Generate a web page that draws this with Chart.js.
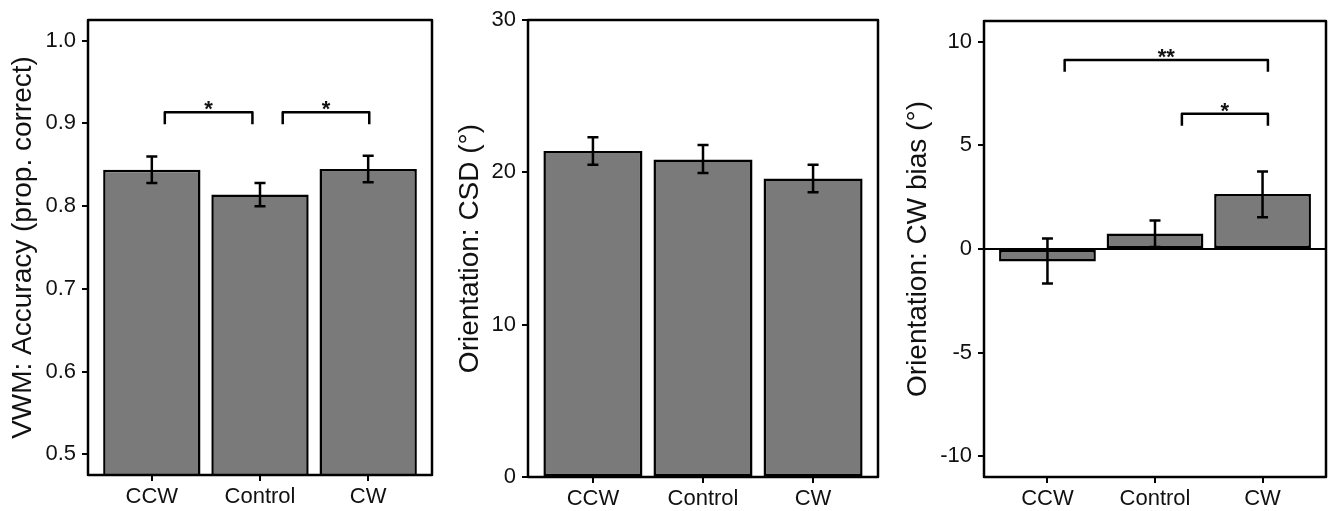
<!DOCTYPE html>
<html>
<head>
<meta charset="utf-8">
<script src="https://cdn.jsdelivr.net/npm/chart.js@4/dist/chart.umd.min.js"></script>
<style>
  html, body { margin: 0; padding: 0; background: #fff; }
  body { width: 1328px; height: 511px; position: relative; overflow: hidden; }
  canvas { position: absolute; top: 0; }
</style>
</head>
<body>
<canvas id="c1" width="440" height="511" style="left:0px"></canvas>
<canvas id="c2" width="450" height="511" style="left:440px"></canvas>
<canvas id="c3" width="438" height="511" style="left:890px"></canvas>
<script>
// ---- data ----
const categories = ['CCW', 'Control', 'CW'];

const accuracy   = [0.844, 0.814, 0.845];
const accuracyLo = [0.828, 0.800, 0.829];
const accuracyHi = [0.860, 0.828, 0.861];
const accuracyTicks = [0.5, 0.6, 0.7, 0.8, 0.9, 1.0];

const csd   = [21.4, 20.85, 19.6];
const csdLo = [20.5, 19.95, 18.7];
const csdHi = [22.3, 21.8, 20.5];
const csdTicks = [0, 10, 20, 30];

const bias   = [-0.6, 0.75, 2.65];
const biasLo = [-1.66, 0.10, 1.53];
const biasHi = [0.51, 1.38, 3.74];
const biasTicks = [-10, -5, 0, 5, 10];

// significance brackets: [xFrom, xTo, yTop, yTail, label]
const accuracyBrackets = [[1.12, 1.93, 0.9135, 0.899, '*'], [2.21, 3.01, 0.9135, 0.899, '*']];
const csdBrackets = [];
const biasBrackets = [[1.16, 3.05, 9.12, 8.55, '**'], [2.25, 3.05, 6.53, 5.95, '*']];

// ---- drawing ----
const FONT = "'Liberation Sans', Arial, Helvetica, sans-serif";
const TXT = '#111';

const framePlugin = {
  id: 'frame',
  afterDatasetsDraw(chart, args, opts) {
    const ctx = chart.ctx, a = chart.chartArea;
    const xs = chart.scales.x, ys = chart.scales.y;
    ctx.save();
    if (opts.zeroLine) {
      const y0 = ys.getPixelForValue(0);
      ctx.strokeStyle = '#000'; ctx.lineWidth = 2;
      ctx.beginPath(); ctx.moveTo(a.left, y0); ctx.lineTo(a.right, y0); ctx.stroke();
    }
    ctx.strokeStyle = '#000'; ctx.lineWidth = 2.5; ctx.lineCap = 'butt';
    const cap = 5.5;
    opts.lo.forEach((lo, i) => {
      const x = xs.getPixelForValue(i + 1);
      const yl = ys.getPixelForValue(lo), yh = ys.getPixelForValue(opts.hi[i]);
      ctx.beginPath();
      ctx.moveTo(x, yl); ctx.lineTo(x, yh);
      ctx.moveTo(x - cap, yl); ctx.lineTo(x + cap, yl);
      ctx.moveTo(x - cap, yh); ctx.lineTo(x + cap, yh);
      ctx.stroke();
    });
    ctx.lineWidth = 2.5; ctx.lineJoin = 'round';
    opts.brackets.forEach(b => {
      const x1 = xs.getPixelForValue(b[0]), x2 = xs.getPixelForValue(b[1]);
      const yt = ys.getPixelForValue(b[2]), yb = ys.getPixelForValue(b[3]);
      ctx.beginPath();
      ctx.moveTo(x1, yb); ctx.lineTo(x1, yt); ctx.lineTo(x2, yt); ctx.lineTo(x2, yb);
      ctx.stroke();
      ctx.fillStyle = TXT;
      ctx.font = 'bold 22px ' + FONT;
      ctx.textAlign = 'center'; ctx.textBaseline = 'alphabetic';
      ctx.fillText(b[4], (x1 + x2) / 2, yt + 4);
    });
    ctx.strokeStyle = '#000'; ctx.lineWidth = 2.5;
    ctx.strokeRect(a.left, a.top, a.right - a.left, a.bottom - a.top);
    ctx.restore();
  }
};

function makePanel(id, cfg) {
  const H = 511;
  new Chart(document.getElementById(id), {
    type: 'bar',
    data: {
      datasets: [{
        data: cfg.values.map((v, i) => ({ x: i + 1, y: v })),
        backgroundColor: '#7a7a7a',
        borderColor: '#000',
        borderWidth: 2.5,
        borderSkipped: false,
        barPercentage: 0.9,
        categoryPercentage: 1.0
      }]
    },
    options: {
      responsive: false,
      animation: false,
      devicePixelRatio: 1,
      layout: { padding: { left: 0, top: cfg.top, right: cfg.padRight, bottom: 0 } },
      plugins: {
        legend: { display: false },
        tooltip: { enabled: false },
        frame: { lo: cfg.lo, hi: cfg.hi, brackets: cfg.brackets, zeroLine: cfg.zeroLine }
      },
      scales: {
        x: {
          type: 'linear',
          offset: false,
          min: 0.41, max: 3.59,
          afterBuildTicks: s => { s.ticks = categories.map((c, i) => ({ value: i + 1 })); },
          afterFit: s => { s.height = H - cfg.bottom; },
          ticks: {
            callback: v => categories[Math.round(v) - 1],
            font: { family: FONT, size: 22 },
            color: TXT,
            padding: 3,
            maxRotation: 0, autoSkip: false
          },
          grid: { offset: false, drawOnChartArea: false, drawTicks: true, tickLength: 6, color: '#000', lineWidth: 2 },
          border: { display: false }
        },
        y: {
          min: cfg.min, max: cfg.max,
          afterBuildTicks: s => { s.ticks = cfg.ticks.map(v => ({ value: v })); },
          afterFit: s => { s.width = cfg.axisW; },
          ticks: {
            callback: cfg.fmt,
            font: { family: FONT, size: 22 },
            color: TXT,
            padding: 6
          },
          grid: { drawOnChartArea: false, drawTicks: true, tickLength: 6, color: '#000', lineWidth: 2 },
          border: { display: false },
          title: {
            display: true,
            text: cfg.title,
            font: { family: FONT, size: 28 },
            color: TXT,
            padding: { top: cfg.titlePad, bottom: 0 }
          }
        }
      }
    },
    plugins: [framePlugin]
  });
}

makePanel('c1', {
  axisW: 88, top: 20, padRight: 8, bottom: 475,
  min: 0.475, max: 1.025, ticks: accuracyTicks, fmt: v => v.toFixed(1),
  values: accuracy, lo: accuracyLo, hi: accuracyHi, brackets: accuracyBrackets,
  title: 'VWM: Accuracy (prop. correct)', titlePad: 6, zeroLine: false
});
makePanel('c2', {
  axisW: 88, top: 20, padRight: 12, bottom: 477,
  min: 0, max: 30, ticks: csdTicks, fmt: v => String(v),
  values: csd, lo: csdLo, hi: csdHi, brackets: csdBrackets,
  title: 'Orientation: CSD (°)', titlePad: 13, zeroLine: false
});
makePanel('c3', {
  axisW: 94, top: 21, padRight: 2, bottom: 477,
  min: -11, max: 11, ticks: biasTicks, fmt: v => String(v),
  values: bias, lo: biasLo, hi: biasHi, brackets: biasBrackets,
  title: 'Orientation: CW bias (°)', titlePad: 11, zeroLine: true
});
</script>
</body>
</html>
